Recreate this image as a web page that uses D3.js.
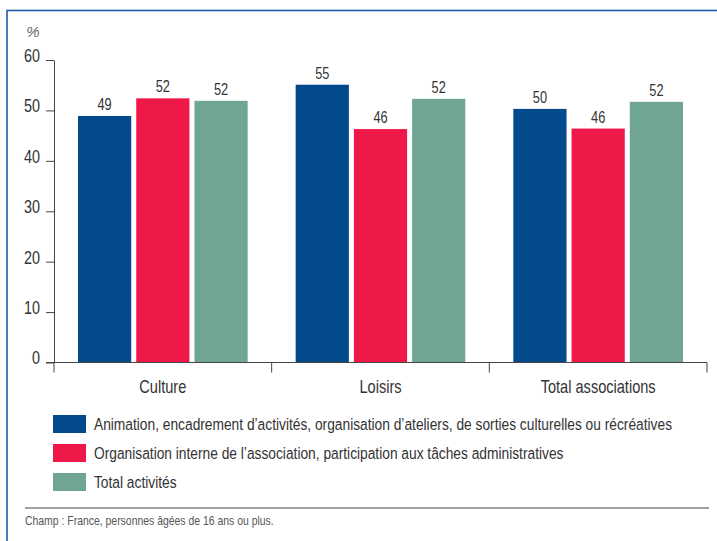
<!DOCTYPE html>
<html>
<head>
<meta charset="utf-8">
<script src="https://cdn.jsdelivr.net/npm/d3@7"></script>
<style>
  html, body { margin: 0; padding: 0; background: #fff; }
  svg text { font-family: "Liberation Sans", Arial, sans-serif; fill: #333; }
</style>
</head>
<body>
<svg id="chart" width="717" height="541"></svg>
<script>
// Categories on the x axis
const categories = ["Culture", "Loisirs", "Total associations"];
// Series names (legend)
const seriesNames = [
  "Animation, encadrement d\u2019activités, organisation d\u2019ateliers, de sorties culturelles ou récréatives",
  "Organisation interne de l\u2019association, participation aux tâches administratives",
  "Total activités"
];
// Series values (%), one per category
const animation = [48.9, 55.1, 50.3];
const organisation = [52.4, 46.3, 46.4];
const totalActivites = [51.9, 52.3, 51.7];
const seriesValues = [animation, organisation, totalActivites];
const seriesColors = ["#034a8c", "#ee1849", "#71a593"];
// Y axis ticks
const yTicks = [0, 10, 20, 30, 40, 50, 60];
const footnote = "Champ : France, personnes âgées de 16 ans ou plus.";

// squeeze a text horizontally around its own anchor point (condensed look)
function condense(sel, f = 0.81) {
  sel.each(function () {
    const t = d3.select(this);
    const x0 = +t.attr("x") || 0;
    const y0 = +t.attr("y") || 0;
    t.attr("transform", `translate(${x0},${y0}) scale(${f},1) translate(${-x0},${-y0})`);
  });
}

const svg = d3.select("#chart");

// blue frame around the figure
svg.append("rect")
  .attr("x", 7).attr("y", 10.5)
  .attr("width", 740).attr("height", 560)
  .attr("fill", "none").attr("stroke", "#1b5ea8").attr("stroke-width", 1.6);

const x = d3.scaleBand().domain(categories).range([54, 707]).padding(0);
const inner = d3.scaleBand().domain(d3.range(seriesNames.length))
  .range([24, x.bandwidth() - 24]).paddingInner(0.0862);
const y = d3.scaleLinear().domain([0, 60]).range([362.5, 60]);

// y axis
const yAxis = svg.append("g")
  .attr("transform", "translate(54,0)")
  .call(d3.axisLeft(y).tickValues(yTicks).tickSize(8).tickSizeOuter(0).tickPadding(6));
yAxis.attr("font-family", null);
yAxis.select(".domain").attr("stroke", "#444");
yAxis.selectAll(".tick line").attr("stroke", "#444");
yAxis.selectAll(".tick text")
  .attr("dy", "0.08em")
  .style("font-size", "18px")
  .attr("fill", "#333")
  .call(condense, 0.8);

// percent unit
svg.append("text").attr("x", 33).attr("y", 37)
  .attr("text-anchor", "middle")
  .style("font-size", "15px").style("font-style", "italic")
  .style("fill", "#666")
  .text("%");

// bars
const rows = categories.map((c, i) => ({ c, vals: seriesValues.map(s => s[i]) }));
const groups = svg.append("g").selectAll("g").data(rows).join("g")
  .attr("transform", d => `translate(${x(d.c)},0)`);

groups.selectAll("rect").data(d => d.vals).join("rect")
  .attr("x", (v, k) => inner(k))
  .attr("width", inner.bandwidth())
  .attr("y", v => y(v))
  .attr("height", v => y(0) - y(v))
  .attr("fill", (v, k) => seriesColors[k]);

groups.selectAll("text.val").data(d => d.vals).join("text")
  .attr("class", "val")
  .attr("x", (v, k) => inner(k) + inner.bandwidth() / 2)
  .attr("y", v => y(v) - 6)
  .attr("text-anchor", "middle")
  .style("font-size", "16px")
  .text(v => d3.format(".0f")(v))
  .call(condense, 0.8);

// x axis with ticks at band boundaries
const xAxis = svg.append("g");
xAxis.append("line")
  .attr("x1", 46).attr("x2", 707)
  .attr("y1", y(0)).attr("y2", y(0))
  .attr("stroke", "#444");
const bounds = categories.map(c => x(c)).concat([x(categories[categories.length - 1]) + x.bandwidth()]);
xAxis.selectAll("line.tk").data(bounds).join("line")
  .attr("class", "tk")
  .attr("x1", d => d).attr("x2", d => d)
  .attr("y1", y(0)).attr("y2", y(0) + 10)
  .attr("stroke", "#444");
xAxis.selectAll("text").data(categories).join("text")
  .attr("x", c => x(c) + x.bandwidth() / 2)
  .attr("y", 393)
  .attr("text-anchor", "middle")
  .style("font-size", "18px")
  .text(c => c)
  .call(condense, 0.81);

// legend
const legend = svg.append("g").selectAll("g").data(seriesNames).join("g")
  .attr("transform", (d, i) => `translate(53,${415 + i * 29})`);
legend.append("rect")
  .attr("width", 33).attr("height", 18)
  .attr("fill", (d, i) => seriesColors[i]);
legend.append("text")
  .attr("x", 41).attr("y", 15)
  .style("font-size", "17px")
  .text(d => d)
  .call(condense, 0.81);

// separator and footnote
svg.append("line")
  .attr("x1", 25).attr("x2", 709).attr("y1", 508).attr("y2", 508)
  .attr("stroke", "#444").attr("stroke-width", 1.2);
svg.append("text")
  .attr("x", 25).attr("y", 525)
  .style("font-size", "12px").style("fill", "#555")
  .text(footnote)
  .call(condense, 0.87);
</script>
</body>
</html>
